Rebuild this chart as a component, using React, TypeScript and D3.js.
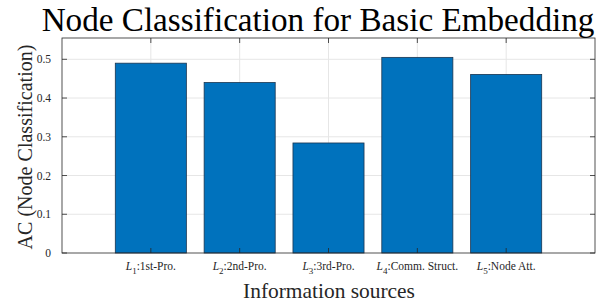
import React, { useEffect, useRef } from 'react';
import * as d3 from 'd3';

const categories = ['1st-Pro.', '2nd-Pro.', '3rd-Pro.', 'Comm. Struct.', 'Node Att.'];
const subscripts = ['1', '2', '3', '4', '5'];
const values = [0.49, 0.44, 0.284, 0.505, 0.461];
const yTicks = [0, 0.1, 0.2, 0.3, 0.4, 0.5];

// shrink/grow a text's font so it spans about `target` px
const fitWidth = (sel: any, target: number) => {
  const node = sel.node() as SVGTextElement;
  const w = node.getComputedTextLength();
  const fs = parseFloat(sel.attr('font-size'));
  if (w > 0) sel.attr('font-size', (fs * target) / w);
};

const App = () => {
  const svgRef = useRef<SVGSVGElement>(null);

  useEffect(() => {
    document.body.style.margin = '0';
    const svg = d3.select(svgRef.current);
    svg.selectAll('*').remove();
    const m = { left: 62, right: 595, top: 38, bottom: 253 };
    const ink = '#262626';

    const x = d3.scaleLinear().domain([0, 6]).range([m.left, m.right]);
    const y = d3.scaleLinear().domain([0, 0.555]).range([m.bottom, m.top]);

    // grid
    svg.append('g').selectAll('line').data(yTicks.slice(1)).enter().append('line')
      .attr('x1', m.left).attr('x2', m.right)
      .attr('y1', d => y(d)).attr('y2', d => y(d))
      .attr('stroke', '#e6e6e6').attr('stroke-width', 1);
    svg.append('g').selectAll('line').data(d3.range(1, 6)).enter().append('line')
      .attr('x1', d => x(d)).attr('x2', d => x(d))
      .attr('y1', m.top).attr('y2', m.bottom)
      .attr('stroke', '#e6e6e6').attr('stroke-width', 1);

    // bars
    svg.append('g').selectAll('rect').data(values).enter().append('rect')
      .attr('x', (d, i) => x(i + 1 - 0.4))
      .attr('width', x(0.8) - x(0))
      .attr('y', d => y(d))
      .attr('height', d => y(0) - y(d))
      .attr('fill', '#0072BD')
      .attr('stroke', '#1a3550').attr('stroke-width', 0.8);

    // box
    svg.append('rect')
      .attr('x', m.left).attr('y', m.top)
      .attr('width', m.right - m.left).attr('height', m.bottom - m.top)
      .attr('fill', 'none').attr('stroke', ink).attr('stroke-width', 0.8);

    // ticks
    const tk = 5;
    yTicks.forEach(t => {
      svg.append('line').attr('x1', m.left).attr('x2', m.left + tk)
        .attr('y1', y(t)).attr('y2', y(t)).attr('stroke', ink).attr('stroke-width', 0.8);
      svg.append('line').attr('x1', m.right).attr('x2', m.right - tk)
        .attr('y1', y(t)).attr('y2', y(t)).attr('stroke', ink).attr('stroke-width', 0.8);
      svg.append('text').attr('class', 'tt').attr('x', m.left - 11).attr('y', y(t) + 4)
        .attr('text-anchor', 'end').attr('font-size', 11.5)
        .attr('fill', ink).text(String(t));
    });
    d3.range(1, 6).forEach(t => {
      svg.append('line').attr('x1', x(t)).attr('x2', x(t))
        .attr('y1', m.bottom).attr('y2', m.bottom - tk).attr('stroke', ink).attr('stroke-width', 0.8);
      svg.append('line').attr('x1', x(t)).attr('x2', x(t))
        .attr('y1', m.top).attr('y2', m.top + tk).attr('stroke', ink).attr('stroke-width', 0.8);
    });

    // x tick labels
    categories.forEach((c, i) => {
      const tx = svg.append('text').attr('x', x(i + 1)).attr('y', 270)
        .attr('text-anchor', 'middle').attr('font-size', 11.5)
        .attr('fill', ink);
      tx.append('tspan').attr('font-style', 'italic').text('L');
      tx.append('tspan').attr('dy', 4).attr('font-size', 9).text(subscripts[i]);
      tx.append('tspan').attr('dy', -4).text(':' + c);
    });

    const xl = svg.append('text').attr('x', 329).attr('y', 298)
      .attr('text-anchor', 'middle').attr('font-size', 20)
      .attr('fill', ink).text('Information sources');
    fitWidth(xl, 172);

    const yl = svg.append('text')
      .attr('transform', `translate(32, 147) rotate(-90)`)
      .attr('text-anchor', 'middle').attr('font-size', 19)
      .attr('fill', ink).text('AC (Node Classification)');
    fitWidth(yl, 205);

    const title = svg.append('text').attr('x', 318).attr('y', 31)
      .attr('text-anchor', 'middle').attr('font-size', 30)
      .attr('fill', '#000').text('Node Classification for Basic Embedding');
    fitWidth(title, 553);
  }, []);

  return (
    <svg ref={svgRef} width={598} height={305}
      style={{ display: 'block', background: '#fff', fontFamily: "'Liberation Serif', 'Times New Roman', 'DejaVu Serif', serif" }}></svg>
  );
};

export default App;
